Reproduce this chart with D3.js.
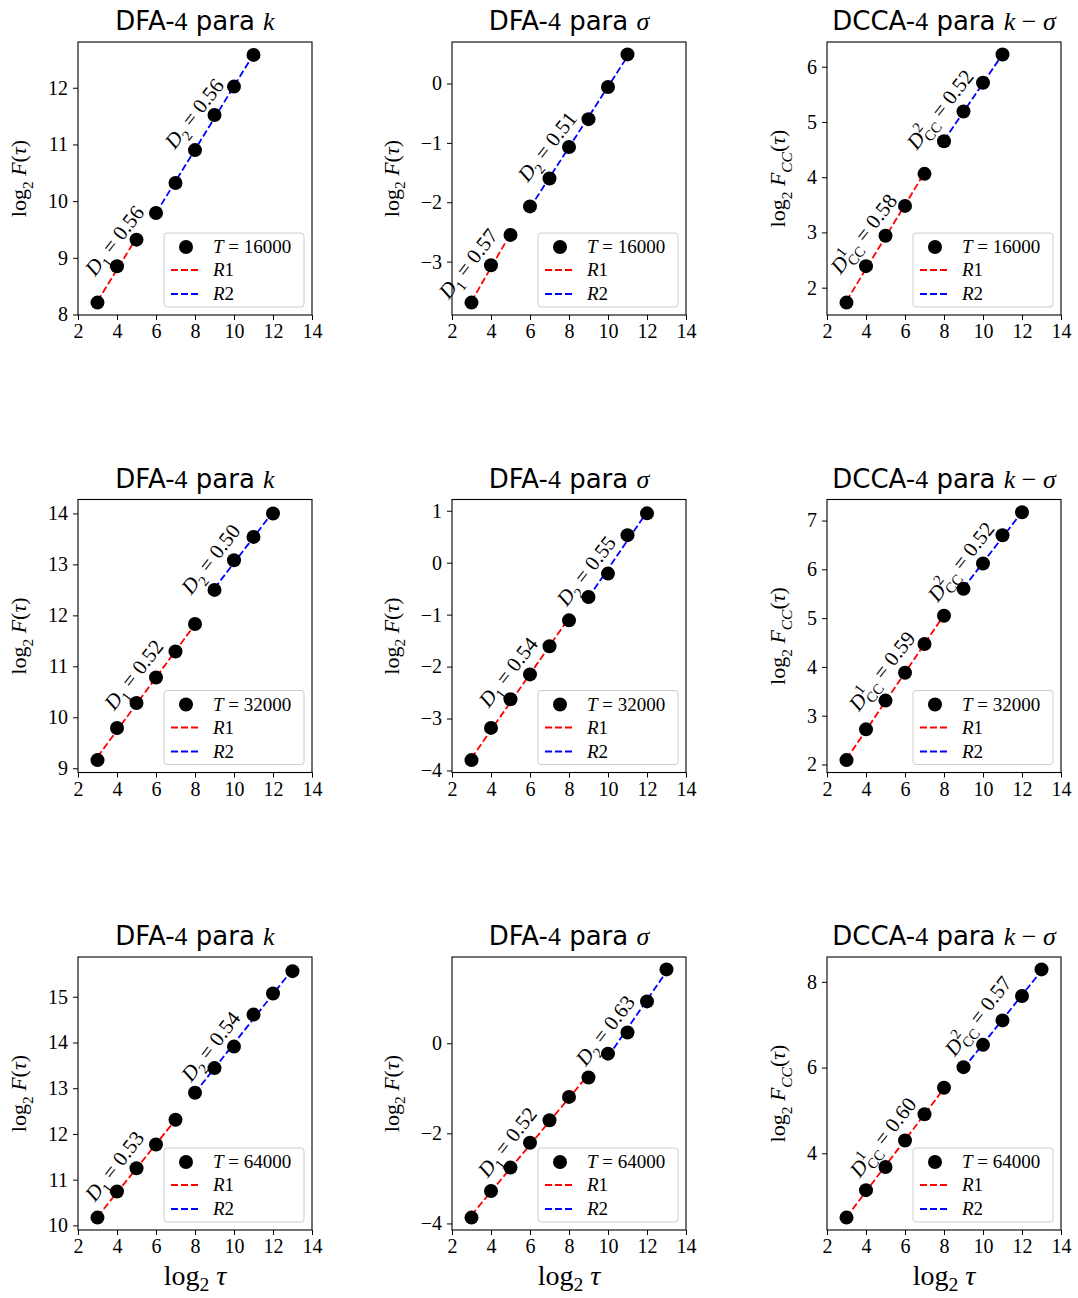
<!DOCTYPE html>
<html lang="en">
<head>
<meta charset="utf-8">
<title>DFA-4 / DCCA-4</title>
<style>
  body { margin: 0; background: #fff; }
  text { white-space: pre; }
</style>
</head>
<body>
<div id="chart"></div>
<script src="https://cdnjs.cloudflare.com/ajax/libs/d3/7.8.5/d3.min.js"></script>
<script>
// log2(tau) for each series length
var tauT16 = [3, 4, 5, 6, 7, 8, 9, 10, 11];
var tauT32 = [3, 4, 5, 6, 7, 8, 9, 10, 11, 12];
var tauT64 = [3, 4, 5, 6, 7, 8, 9, 10, 11, 12, 13];

// log2 F(tau)
var kT16      = [8.21, 8.85, 9.32, 9.79, 10.32, 10.90, 11.52, 12.02, 12.58];
var sigmaT16  = [-3.69, -3.06, -2.55, -2.07, -1.60, -1.07, -0.60, -0.06, 0.49];
var kSigmaT16 = [1.73, 2.39, 2.94, 3.48, 4.06, 4.65, 5.19, 5.71, 6.22];
var kT32      = [9.16, 9.79, 10.28, 10.78, 11.29, 11.83, 12.50, 13.08, 13.54, 14.00];
var sigmaT32  = [-3.80, -3.18, -2.63, -2.15, -1.61, -1.11, -0.66, -0.21, 0.53, 0.95];
var kSigmaT32 = [2.09, 2.72, 3.31, 3.88, 4.47, 5.05, 5.60, 6.12, 6.70, 7.17];
var kT64      = [10.17, 10.74, 11.25, 11.77, 12.31, 12.90, 13.44, 13.91, 14.61, 15.07, 15.56];
var sigmaT64  = [-3.87, -3.28, -2.76, -2.21, -1.71, -1.19, -0.76, -0.23, 0.24, 0.93, 1.64];
var kSigmaT64 = [2.50, 3.14, 3.68, 4.30, 4.91, 5.53, 6.01, 6.53, 7.10, 7.67, 8.29];

// last log2(tau) of the first regime (R1), per panel (row-major)
var breakAt = [5, 5, 7, 8, 8, 8, 7, 9, 8];
// fitted exponents [D1, D2], per panel
var slopes = [[0.56, 0.56], [0.57, 0.51], [0.58, 0.52],
              [0.52, 0.50], [0.54, 0.55], [0.59, 0.52],
              [0.53, 0.54], [0.52, 0.63], [0.60, 0.57]];

var seriesLength = ["16000", "32000", "64000"];
var xTicks = [2, 4, 6, 8, 10, 12, 14];
var yTicks = [[8, 9, 10, 11, 12], [-3, -2, -1, 0], [2, 3, 4, 5, 6],
              [9, 10, 11, 12, 13, 14], [-4, -3, -2, -1, 0, 1], [2, 3, 4, 5, 6, 7],
              [10, 11, 12, 13, 14, 15], [-4, -2, 0], [4, 6, 8]];

// where the rotated D labels sit (data coords of the label centre)
var labelPos = [[[3.86, 9.31], [7.95, 11.55]], [[2.82, -3.03], [6.87, -1.06]], [[3.87, 2.98], [7.79, 5.23]],
                [[4.85, 10.84], [8.80, 13.11]], [[4.87, -2.10], [8.88, -0.15]], [[4.81, 3.92], [8.86, 6.16]],
                [[3.86, 11.30], [8.80, 13.92]], [[4.82, -2.19], [9.85, 0.29]], [[4.86, 4.38], [9.74, 7.21]]];

var taus = [tauT16, tauT32, tauT64];
var values = [[kT16, sigmaT16, kSigmaT16], [kT32, sigmaT32, kSigmaT32], [kT64, sigmaT64, kSigmaT64]];

var W = 1078, H = 1298;
var colX = [78, 452, 827], rowY = [42, 499.5, 957];
var pw = 234, ph = 273;
var serif = "'Liberation Serif', 'DejaVu Serif', serif";
var sans = "'DejaVu Sans', sans-serif";
var tickFs = 20, annFs = 21, legFs = 19, ylabFs = 22, titleFs = 26, xlabFs = 28;

var svg = d3.select("#chart").append("svg")
    .attr("width", W).attr("height", H)
    .attr("font-family", serif);

// append tspans; dy/dx in units of the base font size
function parts(text, list, fs) {
  list.forEach(function(p) {
    var ts = text.append("tspan").text(p.t);
    if (p.it) ts.attr("font-style", "italic");
    if (p.s) ts.attr("font-size", fs * p.s);
    if (p.dy) ts.attr("dy", p.dy * fs);
    if (p.dx) ts.attr("dx", p.dx * fs);
    if (p.f) ts.attr("font-family", p.f);
  });
  return text;
}

function fmt(v) { return v < 0 ? "\u2212" + Math.abs(v) : String(v); }

for (var r = 0; r < 3; r++) {
  for (var c = 0; c < 3; c++) {
    var idx = r * 3 + c;
    var xs = taus[r], ys = values[r][c];
    var pts = xs.map(function(x, i) { return {x: x, y: ys[i]}; });
    var seg1 = pts.filter(function(p) { return p.x <= breakAt[idx]; });
    var seg2 = pts.filter(function(p) { return p.x > breakAt[idx]; });

    function fitLine(seg, m) {
      var mx = d3.mean(seg, function(p) { return p.x; });
      var my = d3.mean(seg, function(p) { return p.y; });
      var x0 = seg[0].x, x1 = seg[seg.length - 1].x;
      return [{x: x0, y: my + m * (x0 - mx)}, {x: x1, y: my + m * (x1 - mx)}];
    }
    var l1 = fitLine(seg1, slopes[idx][0]);
    var l2 = fitLine(seg2, slopes[idx][1]);

    var ext = d3.extent(ys.concat([l1[0].y, l1[1].y, l2[0].y, l2[1].y]));
    var pad = (ext[1] - ext[0]) * 0.05;

    var x = d3.scaleLinear().domain([2, 14]).range([0, pw]);
    var y = d3.scaleLinear().domain([ext[0] - pad, ext[1] + pad]).range([ph, 0]);

    var g = svg.append("g").attr("transform", "translate(" + colX[c] + "," + rowY[r] + ")");

    var line = d3.line().x(function(d) { return x(d.x); }).y(function(d) { return y(d.y); });
    g.append("path").attr("d", line(l1)).attr("fill", "none")
      .attr("stroke", "#ff0000").attr("stroke-width", 1.8).attr("stroke-dasharray", "7,3");
    g.append("path").attr("d", line(l2)).attr("fill", "none")
      .attr("stroke", "#0000ff").attr("stroke-width", 1.8).attr("stroke-dasharray", "7,3");

    g.selectAll("circle.pt").data(pts).enter().append("circle")
      .attr("class", "pt")
      .attr("cx", function(d) { return x(d.x); })
      .attr("cy", function(d) { return y(d.y); })
      .attr("r", 7).attr("fill", "#000");

    // axes
    var xAxis = g.append("g").attr("transform", "translate(0," + ph + ")")
      .call(d3.axisBottom(x).tickValues(xTicks).tickSize(5).tickPadding(4).tickFormat(fmt));
    var yAxis = g.append("g")
      .call(d3.axisLeft(y).tickValues(yTicks[idx]).tickSize(5).tickPadding(5).tickFormat(fmt));
    [xAxis, yAxis].forEach(function(a) {
      a.select(".domain").remove();
      a.selectAll("text").attr("font-family", serif).attr("font-size", tickFs).attr("fill", "#000");
      a.selectAll("line").attr("stroke", "#000").attr("stroke-width", 1);
    });
    g.append("rect").attr("width", pw).attr("height", ph)
      .attr("fill", "none").attr("stroke", "#000").attr("stroke-width", 1.1);

    // rotated exponent labels
    var isCC = (c === 2);
    [0, 1].forEach(function(k) {
      var p = labelPos[idx][k];
      var t = g.append("text")
        .attr("transform", "translate(" + x(p[0]) + "," + y(p[1]) + ") rotate(-52)")
        .attr("text-anchor", "middle").attr("dy", "0.35em")
        .attr("font-size", annFs);
      var val = slopes[idx][k].toFixed(2);
      if (isCC) {
        parts(t, [{t: "D", it: true}, {t: String(k + 1), s: 0.7, dy: -0.42},
                  {t: "CC", s: 0.7, dy: 0.7, dx: -0.35}, {t: " = " + val, dy: -0.28}], annFs);
      } else {
        parts(t, [{t: "D", it: true}, {t: String(k + 1), s: 0.7, dy: 0.28},
                  {t: " = " + val, dy: -0.28}], annFs);
      }
    });

    // legend
    var lg = g.append("g").attr("transform", "translate(" + (pw - 148) + "," + (ph - 82) + ")");
    lg.append("rect").attr("width", 140).attr("height", 74).attr("rx", 3)
      .attr("fill", "#fff").attr("fill-opacity", 0.8).attr("stroke", "#cccccc");
    lg.append("circle").attr("cx", 22).attr("cy", 14).attr("r", 7).attr("fill", "#000");
    lg.append("line").attr("x1", 7).attr("x2", 36).attr("y1", 37).attr("y2", 37)
      .attr("stroke", "#ff0000").attr("stroke-width", 1.8).attr("stroke-dasharray", "7,3");
    lg.append("line").attr("x1", 7).attr("x2", 36).attr("y1", 61).attr("y2", 61)
      .attr("stroke", "#0000ff").attr("stroke-width", 1.8).attr("stroke-dasharray", "7,3");
    parts(lg.append("text").attr("x", 49).attr("y", 20).attr("font-size", legFs),
      [{t: "T", it: true}, {t: " = " + seriesLength[r]}], legFs);
    parts(lg.append("text").attr("x", 49).attr("y", 43).attr("font-size", legFs),
      [{t: "R", it: true}, {t: "1"}], legFs);
    parts(lg.append("text").attr("x", 49).attr("y", 67).attr("font-size", legFs),
      [{t: "R", it: true}, {t: "2"}], legFs);

    // title
    var title = g.append("text").attr("x", pw / 2).attr("y", -12)
      .attr("text-anchor", "middle").attr("font-size", titleFs).attr("font-family", sans);
    var tparts = [{t: (isCC ? "DCCA-" : "DFA-")}, {t: "4", f: serif}, {t: " para "}];
    if (c === 0) tparts.push({t: "k", it: true, f: serif});
    if (c === 1) tparts.push({t: "\u03c3", it: true, f: serif});
    if (c === 2) tparts.push({t: "k", it: true, f: serif}, {t: " \u2212 ", f: serif}, {t: "\u03c3", it: true, f: serif});
    parts(title, tparts, titleFs);

    // y label, placed left of the widest tick label
    var tickW = d3.max(yAxis.selectAll("text").nodes(), function(n) { return n.getComputedTextLength(); });
    var lx = -5 - 5 - tickW - 22;
    var yl = g.append("text")
      .attr("transform", "translate(" + lx + "," + (ph / 2) + ") rotate(-90)")
      .attr("text-anchor", "middle").attr("font-size", ylabFs);
    if (isCC) {
      parts(yl, [{t: "log"}, {t: "2", s: 0.7, dy: 0.3}, {t: " F", it: true, dy: -0.3},
                 {t: "CC", it: true, s: 0.7, dy: 0.3}, {t: "(", dy: -0.3}, {t: "\u03c4", it: true}, {t: ")"}], ylabFs);
    } else {
      parts(yl, [{t: "log"}, {t: "2", s: 0.7, dy: 0.3}, {t: " F", it: true, dy: -0.3},
                 {t: "("}, {t: "\u03c4", it: true}, {t: ")"}], ylabFs);
    }

    // x label on the bottom row
    if (r === 2) {
      parts(g.append("text").attr("x", pw / 2).attr("y", ph + 55)
        .attr("text-anchor", "middle").attr("font-size", xlabFs),
        [{t: "log"}, {t: "2", s: 0.7, dy: 0.2}, {t: " \u03c4", it: true, dy: -0.2}], xlabFs);
    }
  }
}
</script>
</body>
</html>
